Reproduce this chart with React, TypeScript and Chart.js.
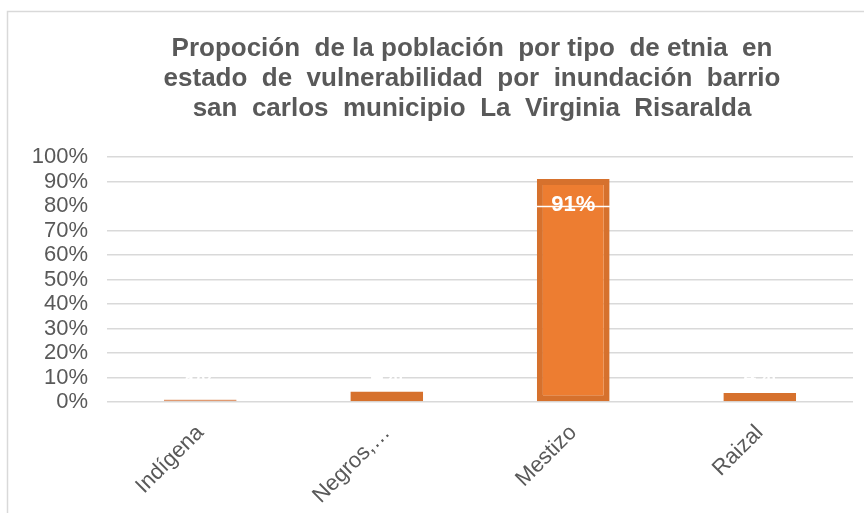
import React, { useEffect, useRef } from "react";
import { Chart, registerables } from "chart.js";

Chart.register(...registerables);

const categories = ["Indígena", "Negros,…", "Mestizo", "Raizal"];
const values = [0.01, 0.043, 0.91, 0.037];
const valueLabels = ["1%", "4%", "91%", "4%"];
const titleLines = [
  "Propoción  de la población  por tipo  de etnia  en",
  "estado  de  vulnerabilidad  por  inundación  barrio",
  "san  carlos  municipio  La  Virginia  Risaralda",
];
const yTickValues = [0, 0.1, 0.2, 0.3, 0.4, 0.5, 0.6, 0.7, 0.8, 0.9, 1.0];

const FONT = "'Liberation Sans', Arial, sans-serif";
const GREY = "#595959";

const frame = {
  id: "frame",
  beforeDraw(chart: any) {
    const ctx = chart.ctx;
    ctx.save();
    ctx.fillStyle = "#ffffff";
    ctx.fillRect(0, 0, chart.width, chart.height);
    ctx.strokeStyle = "#D9D9D9";
    ctx.lineWidth = 1.5;
    ctx.beginPath();
    ctx.moveTo(7.5, chart.height);
    ctx.lineTo(7.5, 11.5);
    ctx.lineTo(chart.width, 11.5);
    ctx.stroke();
    ctx.restore();
  },
};

const titleShift = {
  id: "titleShift",
  afterLayout(chart: any) {
    const t = chart.titleBlock;
    if (t) {
      t.left = 92;
      t.right = 852;
      t.width = t.right - t.left;
    }
  },
};

const overlay = {
  id: "overlay",
  afterDatasetsDraw(chart: any) {
    const ctx = chart.ctx;
    const y = chart.scales.y;
    const area = chart.chartArea;
    ctx.save();
    const py = Math.round(y.getPixelForValue(0.8)) + 0.5;
    ctx.strokeStyle = "#ffffff";
    ctx.lineWidth = 1.5;
    ctx.beginPath();
    ctx.moveTo(area.left, py);
    ctx.lineTo(area.right, py);
    ctx.stroke();
    const meta = chart.getDatasetMeta(0);
    ctx.fillStyle = "#ffffff";
    ctx.font = `bold 22px ${FONT}`;
    ctx.textAlign = "center";
    ctx.textBaseline = "middle";
    meta.data.forEach((bar: any, i: number) => {
      const h = bar.base - bar.y;
      const ty = h > 40 ? bar.y + 26 : bar.y - 16;
      ctx.fillText(valueLabels[i], bar.x, ty);
    });
    ctx.restore();
  },
};

export default function App() {
  const ref = useRef<HTMLCanvasElement>(null);
  useEffect(() => {
    document.body.style.margin = "0";
    const chart = new Chart(ref.current!, {
      type: "bar",
      data: {
        labels: categories,
        datasets: [
          {
            data: values,
            backgroundColor: ["#E6A27C", "#ED7D31", "#ED7D31", "#ED7D31"],
            borderColor: ["#E09A72", "#D6712D", "#D6712D", "#D6712D"],
            borderWidth: 6,
            borderSkipped: false,
            categoryPercentage: 1,
            barPercentage: 0.39,
          },
        ],
      },
      options: {
        animation: false,
        responsive: false,
        devicePixelRatio: 1,
        layout: { padding: { left: 8, right: 11, top: 20, bottom: 0 } },
        plugins: {
          legend: { display: false },
          tooltip: { enabled: false },
          title: {
            display: true,
            text: titleLines,
            color: GREY,
            font: { family: FONT, size: 26, weight: "bold", lineHeight: 1.154 },
            padding: { top: 14, bottom: 33 },
          },
        },
        scales: {
          x: {
            grid: { display: false },
            border: { display: false },
            ticks: {
              color: GREY,
              font: { family: FONT, size: 22 },
              minRotation: 45,
              maxRotation: 45,
              padding: 10,
              autoSkip: false,
            },
            afterFit(scale: any) {
              scale.height = 111;
            },
          },
          y: {
            min: 0,
            max: 1,
            border: { display: false },
            grid: {
              drawTicks: false,
              color: (c: any) =>
                c.tick && Math.abs(c.tick.value - 0.8) < 1e-6 ? "#ffffff" : "#D9D9D9",
              lineWidth: 1.5,
            },
            afterBuildTicks(scale: any) {
              scale.ticks = yTickValues.map((v) => ({ value: v }));
            },
            ticks: {
              color: GREY,
              font: { family: FONT, size: 22 },
              padding: 19,
              autoSkip: false,
              callback: (v: any) => `${Math.round(Number(v) * 100)}%`,
            },
            afterFit(scale: any) {
              scale.width = 99;
            },
          },
        },
      },
      plugins: [frame, titleShift, overlay],
    });
    return () => chart.destroy();
  }, []);
  return (
    <div style={{ width: 864, height: 513, position: "relative" }}>
      <canvas ref={ref} width={864} height={513} style={{ display: "block" }} />
    </div>
  );
}
